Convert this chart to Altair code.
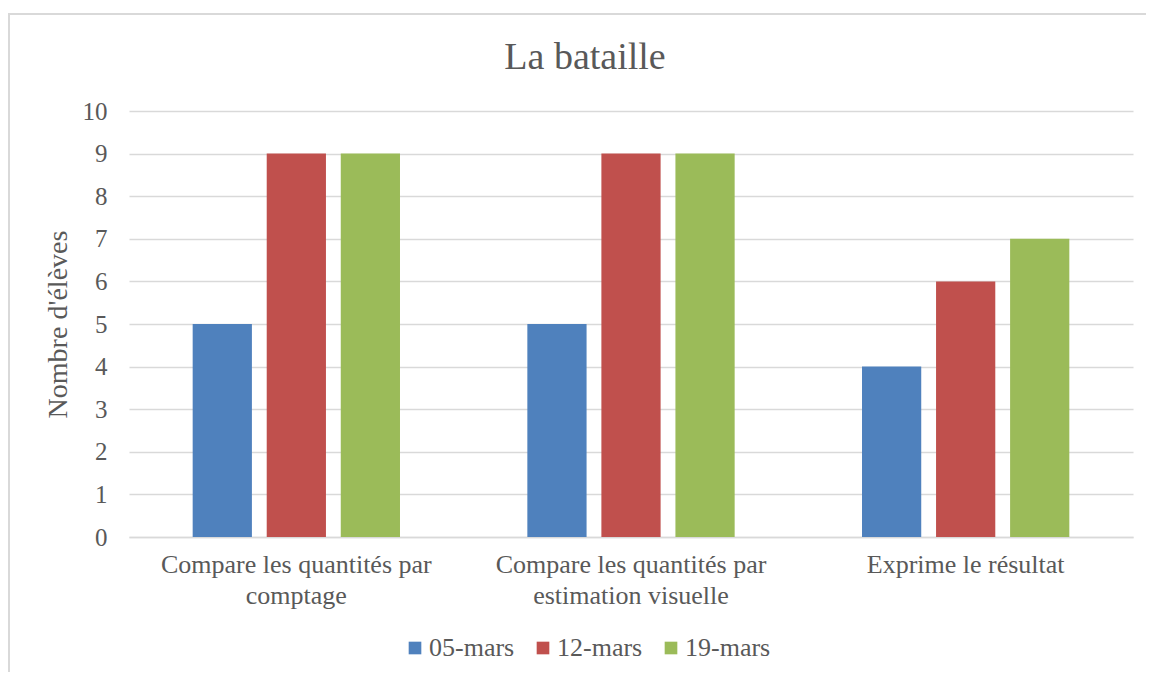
import altair as alt
import pandas as pd

categories = ["Compare les quantités par comptage",
              "Compare les quantités par estimation visuelle",
              "Exprime le résultat"]
series = ["05-mars", "12-mars", "19-mars"]
v_0503 = [5, 5, 4]
v_1203 = [9, 9, 6]
v_1903 = [9, 9, 7]
colors = ["#4f81bd", "#c0504d", "#9bbb59"]
y_ticks = list(range(0, 11))
chart_title = "La bataille"

rows = []
for s, vals in zip(series, [v_0503, v_1203, v_1903]):
    for c, v in zip(categories, vals):
        rows.append({"cat": c, "serie": s, "val": v})
df = pd.DataFrame(rows)

FONT = "Liberation Serif"
TXT = "#595959"
GRID = "#d9d9d9"

W, H = 1004, 426

bars = alt.Chart(df).mark_bar().encode(
    x=alt.X("cat:N", sort=categories,
            scale=alt.Scale(paddingInner=0, paddingOuter=0),
            axis=alt.Axis(title=None, labelAngle=0, labelFontSize=26,
                          labelFont=FONT, labelColor=TXT, labelPadding=14,
                          labelLineHeight=31, labelBaseline="top",
                          labelLimit=500,
                          ticks=False, tickSize=0, domainColor=GRID,
                          domainWidth=1.5, grid=False,
                          labelExpr="datum.label == 'Exprime le résultat' ? datum.label : split(replace(datum.label, 'par ', 'par|'), '|')")),
    xOffset=alt.XOffset("serie:N", sort=series,
                        scale=alt.Scale(paddingInner=0.2, paddingOuter=0.86)),
    y=alt.Y("val:Q", scale=alt.Scale(domain=[0, 10], nice=False),
            axis=alt.Axis(title="Nombre d'élèves", values=y_ticks,
                          titleFont=FONT, titleFontSize=28,
                          titleFontWeight="normal", titleColor=TXT,
                          titlePadding=10,
                          labelFont=FONT, labelFontSize=25, labelColor=TXT,
                          labelPadding=22, ticks=False, tickSize=0,
                          domain=False, grid=True, gridColor=GRID,
                          gridWidth=1.5)),
    color=alt.Color("serie:N", sort=series,
                    scale=alt.Scale(domain=series, range=colors),
                    legend=alt.Legend(title=None, orient="none",
                                      direction="horizontal",
                                      legendX=273, legendY=524,
                                      symbolType="square", symbolSize=160,
                                      symbolStrokeWidth=0, labelFont=FONT,
                                      labelFontSize=26, labelColor=TXT,
                                      labelOffset=1, columnPadding=15)),
)

frame = alt.Chart(pd.DataFrame({"k": [0]})).mark_rect(
    fill=None, stroke=GRID, strokeWidth=2, clip=False
).encode(
    x=alt.value(-120), x2=alt.value(1100),
    y=alt.value(-97), y2=alt.value(600),
)

title = alt.Chart(pd.DataFrame({"t": [chart_title]})).mark_text(
    font=FONT, fontSize=38, color=TXT, align="center", baseline="middle",
    clip=False
).encode(
    text="t:N", x=alt.value(456), y=alt.value(-53),
)

chart = alt.layer(frame, bars, title).properties(
    width=W, height=H,
    autosize=alt.AutoSizeParams(type="none"),
    padding={"left": 121, "top": 103, "right": 13, "bottom": 135},
).configure_view(stroke=None)

chart.save("out.html", embed_options={"renderer": "svg", "actions": False})
